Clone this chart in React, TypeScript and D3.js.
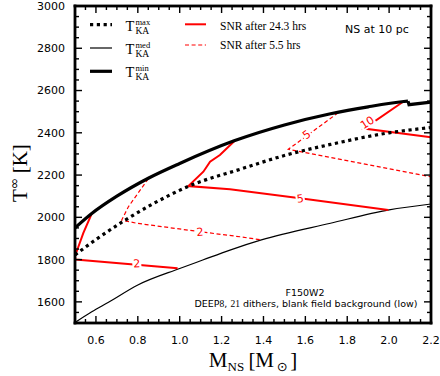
import React from "react";
import * as d3 from "d3";

// axis ticks
const massTicks = [0.6, 0.8, 1.0, 1.2, 1.4, 1.6, 1.8, 2.0, 2.2];
const tempTicks = [1600, 1800, 2000, 2200, 2400, 2600, 2800, 3000];

// [mass, temperature]
const tMaxKA: [number, number][] = [
  [0.5, 1822], [0.6, 1895], [0.74, 1987], [0.88, 2068], [1.04, 2146],
  [1.29, 2228], [1.52, 2298], [1.72, 2345], [2.0, 2400], [2.2, 2425],
];
const tMedKA: [number, number][] = [
  [0.5, 1502], [0.58, 1553], [0.66, 1598], [0.8, 1680], [1.0, 1758],
  [1.11, 1798], [1.24, 1845], [1.39, 1893], [1.72, 1972], [2.0, 2035], [2.2, 2063],
];
const tMinKA: [number, number][] = [
  [0.5, 1950], [0.58, 2018], [0.7, 2100], [0.85, 2185], [1.0, 2255],
  [1.26, 2362], [1.5, 2437], [1.72, 2490], [1.9, 2523], [2.07, 2548],
  [2.09, 2550], [2.095, 2533], [2.2, 2545],
];

// SNR contours after 24.3 hrs
const snrLong2: [number, number][] = [
  [0.58, 2018], [0.54, 1926], [0.505, 1830], [0.5, 1817], [0.502, 1800], [0.99, 1759],
];
const snrLong5: [number, number][] = [
  [1.264, 2364], [1.192, 2295], [1.145, 2263], [1.113, 2216], [1.041, 2148],
  [1.24, 2133], [1.575, 2090], [1.996, 2035],
];
const snrLong10: [number, number][] = [
  [2.067, 2547], [1.88, 2420], [2.2, 2379],
];
// SNR contours after 5.5 hrs
const snrShort2: [number, number][] = [
  [0.85, 2183], [0.755, 2050], [0.723, 1987], [0.795, 1972], [1.097, 1932],
  [1.288, 1908], [1.391, 1893],
];
const snrShort5: [number, number][] = [
  [1.757, 2495], [1.519, 2322], [2.2, 2192],
];

// contour labels: [mass, temperature, text, angle]
const labelsLong: [number, number, string, number][] = [
  [0.795, 1782, "2", -3],
  [1.575, 2090, "5", -7],
  [1.895, 2449, "10", -33],
];
const labelsShort: [number, number, string, number][] = [
  [1.097, 1932, "2", -4],
  [1.606, 2392, "5", -36],
];

const W = 440;
const H = 376;
const pL = 75, pR = 431, pT = 6, pB = 323;
const frameW = 2.8;
const tickW = 1.4;

const serif = "'Liberation Serif', 'DejaVu Serif', serif";
const sans = "'DejaVu Sans', sans-serif";
const red = "#ff0000";

export default function App() {
  const x = d3.scaleLinear().domain([0.5, 2.2]).range([pL, pR]);
  const y = d3.scaleLinear().domain([1500, 3000]).range([pB, pT]);

  const smooth = d3.line<[number, number]>().x(d => x(d[0])).y(d => y(d[1])).curve(d3.curveMonotoneX);
  const straight = d3.line<[number, number]>().x(d => x(d[0])).y(d => y(d[1]));

  // minor ticks every 0.05 / 50 K, major ones on the labelled values
  const xMinor = d3.range(0, 35).map(i => 0.5 + i * 0.05);
  const yMinor = d3.range(0, 31).map(i => 1500 + i * 50);

  const label = (l: [number, number, string, number], i: number, key: string) => {
    const w = l[2].length * 7 + 2;
    return (
      <g key={key + i} transform={`translate(${x(l[0])},${y(l[1])}) rotate(${l[3]})`}>
        <rect x={-w / 2} y={-5.5} width={w} height={11} fill="#fff" />
        <text textAnchor="middle" dy="0.36em" fontSize={11} fontFamily={sans} fill={red}>
          {l[2]}
        </text>
      </g>
    );
  };

  const h = frameW / 2;

  return (
    <svg width={W} height={H} style={{ position: "absolute", left: 0, top: 0, background: "#fff" }}>
      <defs>
        <clipPath id="plotArea">
          <rect x={pL} y={pT} width={pR - pL} height={pB - pT} />
        </clipPath>
      </defs>
      <g clipPath="url(#plotArea)">
        <path d={smooth(tMedKA) || ""} fill="none" stroke="#000" strokeWidth={1.2} />
        <path d={straight(snrShort2) || ""} fill="none" stroke={red} strokeWidth={1.2} strokeDasharray="4,2.6" />
        <path d={straight(snrShort5) || ""} fill="none" stroke={red} strokeWidth={1.2} strokeDasharray="4,2.6" />
        <path d={straight(snrLong2) || ""} fill="none" stroke={red} strokeWidth={2} />
        <path d={straight(snrLong5) || ""} fill="none" stroke={red} strokeWidth={2} />
        <path d={straight(snrLong10) || ""} fill="none" stroke={red} strokeWidth={2} />
        {labelsShort.map((l, i) => label(l, i, "s"))}
        {labelsLong.map((l, i) => label(l, i, "l"))}
        <path d={smooth(tMaxKA) || ""} fill="none" stroke="#000" strokeWidth={3.2} strokeDasharray="3.2,3.6" />
        <path d={smooth(tMinKA.slice(0, 11)) || ""} fill="none" stroke="#000" strokeWidth={3.2} />
        <path d={straight(tMinKA.slice(10)) || ""} fill="none" stroke="#000" strokeWidth={3.2} />
      </g>

      {/* ticks, drawn as filled bars */}
      <g fill="#000">
        {xMinor.map((m, i) => {
          const len = (i + 2) % 4 === 0 ? 7 : 4;
          const px = x(m);
          return (
            <g key={"xt" + i}>
              <rect x={px - tickW / 2} y={pB - len} width={tickW} height={len} />
              <rect x={px - tickW / 2} y={pT} width={tickW} height={len} />
            </g>
          );
        })}
        {yMinor.map((t, i) => {
          const len = t % 200 === 0 ? 7 : 4;
          const py = y(t);
          return (
            <g key={"yt" + i}>
              <rect x={pL} y={py - tickW / 2} width={len} height={tickW} />
              <rect x={pR - len} y={py - tickW / 2} width={len} height={tickW} />
            </g>
          );
        })}
        {/* frame */}
        <rect x={pL - h} y={pT - h} width={pR - pL + frameW} height={frameW} />
        <rect x={pL - h} y={pB - h} width={pR - pL + frameW} height={frameW} />
        <rect x={pL - h} y={pT - h} width={frameW} height={pB - pT + frameW} />
        <rect x={pR - h} y={pT - h} width={frameW} height={pB - pT + frameW} />
      </g>

      {/* tick labels */}
      <g fontFamily={sans} fontSize={11} fill="#000">
        {massTicks.map(m => (
          <text key={"xl" + m} x={x(m)} y={343.5} textAnchor="middle">{m.toFixed(1)}</text>
        ))}
        {tempTicks.map(t => (
          <text key={"yl" + t} x={65} y={y(t)} dy="0.36em" textAnchor="end">{t}</text>
        ))}
      </g>

      {/* axis titles */}
      <text x={(pL + pR) / 2} y={366.5} textAnchor="middle" fontFamily={serif} fontSize={21}>
        <tspan>M</tspan>
        <tspan fontSize={13} dy={4}>NS</tspan>
        <tspan dy={-4}>{"\u2009[M"}</tspan>
        <tspan fontSize={13} dy={4} fontFamily={sans}>{"\u2009\u2299\u2009"}</tspan>
        <tspan dy={-4}>]</tspan>
      </text>
      <text transform="translate(27,202) rotate(-90)" fontFamily={serif} fontSize={21}>
        <tspan>T</tspan>
        <tspan fontSize={14} dy={-8} fontFamily={sans}>∞</tspan>
        <tspan dy={8}>{"\u2009[K]"}</tspan>
      </text>

      {/* legend */}
      <g>
        <line x1={90} x2={112} y1={24.7} y2={24.7} stroke="#000" strokeWidth={3.2} strokeDasharray="3.2,3.6" />
        <line x1={90} x2={112} y1={48} y2={48} stroke="#000" strokeWidth={1.2} />
        <line x1={90} x2={112} y1={71.3} y2={71.3} stroke="#000" strokeWidth={3.2} />
        {["max", "med", "min"].map((s, i) => (
          <g key={s} fontFamily={serif} fill="#000">
            <text x={125.5} y={30.7 + i * 23.3} fontSize={14.5}>T</text>
            <text x={135.5} y={24.5 + i * 23.3} fontSize={8.5}>{s}</text>
            <text x={135.5} y={33.5 + i * 23.3} fontSize={9.5}>KA</text>
          </g>
        ))}
        <line x1={185} x2={206} y1={24.3} y2={24.3} stroke={red} strokeWidth={2} />
        <line x1={185} x2={206} y1={45} y2={45} stroke={red} strokeWidth={1.2} strokeDasharray="4,2.6" />
        <text x={220} y={29.5} fontFamily={serif} fontSize={11.5}>SNR after 24.3 hrs</text>
        <text x={220} y={48.5} fontFamily={serif} fontSize={11.5}>SNR after 5.5 hrs</text>
      </g>

      <text x={345} y={32.5} fontFamily={sans} fontSize={11}>NS at 10 pc</text>

      <g fontFamily={sans} fontSize={9.5} textAnchor="middle">
        <text x={305} y={296}>F150W2</text>
        <text x={306} y={306.7}>
          DEEP<tspan fontFamily={serif}>8</tspan>, <tspan fontFamily={serif}>21</tspan> dithers, blank field background (low)
        </text>
      </g>
    </svg>
  );
}
